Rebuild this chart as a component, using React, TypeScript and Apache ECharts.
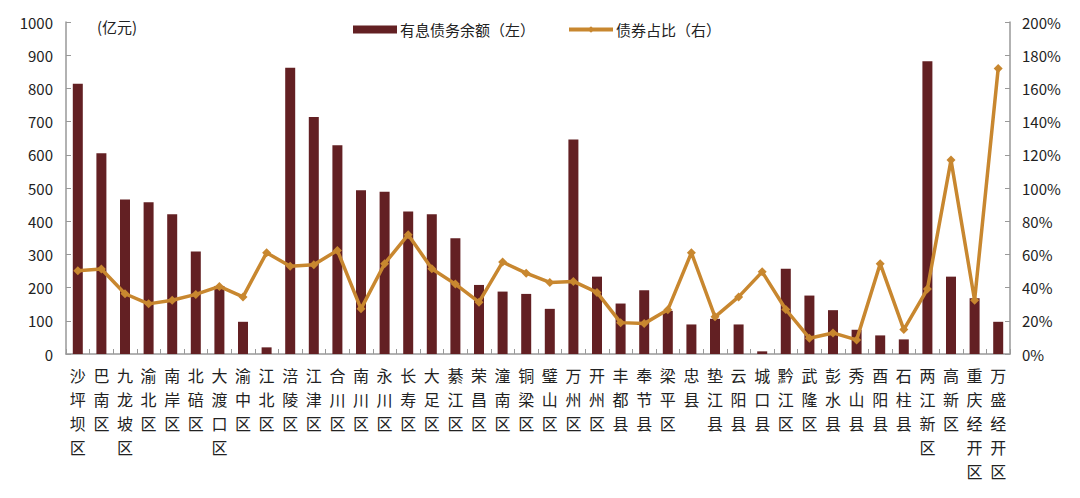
import React, { useEffect, useRef } from "react";
import * as echarts from "echarts";

const categories: string[] = [
  "沙坪坝区", "巴南区", "九龙坡区", "渝北区", "南岸区", "北碚区", "大渡口区", "渝中区", "江北区", "涪陵区",
  "江津区", "合川区", "南川区", "永川区", "长寿区", "大足区", "綦江区", "荣昌区", "潼南区", "铜梁区",
  "璧山区", "万州区", "开州区", "丰都县", "奉节县", "梁平区", "忠县", "垫江县", "云阳县", "城口县",
  "黔江区", "武隆区", "彭水县", "秀山县", "酉阳县", "石柱县", "两江新区", "高新区", "重庆经开区", "万盛经开区",
];

const debtValues: number[] = [
  814, 605, 465, 457, 421, 309, 205, 97, 20, 862,
  714, 629, 493, 489, 429, 421, 349, 208, 188, 181,
  136, 646, 233, 152, 192, 130, 89, 106, 89, 8,
  257, 176, 132, 73, 56, 44, 882, 233, 168, 97,
];

const bondShare: number[] = [
  50.2, 51.2, 36.3, 30.2, 32.4, 35.9, 40.7, 34.4, 61.0, 52.8,
  53.8, 62.4, 27.2, 54.4, 71.9, 51.4, 42.1, 31.2, 55.4, 48.7,
  43.1, 43.7, 37.1, 18.9, 18.3, 26.6, 61.0, 22.4, 34.4, 49.5,
  26.8, 9.5, 12.7, 8.5, 54.4, 14.7, 39.1, 116.8, 32.4, 172.0,
];

const seriesNames: string[] = ["有息债务余额（左）", "债券占比（右）"];
const unitLabel = "(亿元)";

const FONT = "'Noto Sans CJK SC', 'Noto Sans', sans-serif";

export default function App() {
  const ref = useRef<HTMLDivElement>(null);
  useEffect(() => {
    if (!ref.current) return;
    const chart = echarts.init(ref.current, undefined, { renderer: "svg" });
    chart.setOption({
      animation: false,
      backgroundColor: "#ffffff",
      textStyle: { fontFamily: FONT },
      grid: { left: 58, right: 62, top: 14, bottom: 136, containLabel: false },
      legend: {
        left: 340,
        top: 9,
        itemGap: 32,
        itemWidth: 44,
        itemHeight: 8,
        textStyle: { fontSize: 15, color: "#222", fontFamily: FONT, padding: [0, 0, 0, -2] },
        data: [
          { name: seriesNames[0], icon: "rect" },
          { name: seriesNames[1], lineStyle: { width: 4 } },
        ],
      },
      graphic: [
        {
          type: "text",
          left: 89,
          top: 11,
          style: { text: unitLabel, fontSize: 15, fill: "#222", fontFamily: FONT },
        },
      ],
      xAxis: {
        type: "category",
        data: categories,
        boundaryGap: true,
        axisLine: { lineStyle: { color: "#999", width: 1.5 } },
        axisTick: { show: true, inside: true, length: 5, lineStyle: { color: "#999" } },
        axisLabel: {
          interval: 0,
          fontSize: 16,
          lineHeight: 24,
          color: "#222",
          margin: 9,
          fontFamily: FONT,
          formatter: (v: string) => v.split("").join("\n"),
        },
      },
      yAxis: [
        {
          type: "value",
          min: 0,
          max: 1000,
          interval: 100,
          splitLine: { show: false },
          axisLine: { show: true, lineStyle: { color: "#999", width: 1.5 } },
          axisTick: { show: true, inside: true, length: 5, lineStyle: { color: "#999" } },
          axisLabel: { fontSize: 15, color: "#222", margin: 13, fontFamily: FONT, formatter: (v: number) => String(v) },
        },
        {
          type: "value",
          min: 0,
          max: 200,
          interval: 20,
          splitLine: { show: false },
          axisLine: { show: true, lineStyle: { color: "#999", width: 1.5 } },
          axisTick: { show: true, inside: true, length: 5, lineStyle: { color: "#999" } },
          axisLabel: { fontSize: 15, color: "#222", margin: 12, fontFamily: FONT, formatter: (v: number) => `${v}%` },
        },
      ],
      series: [
        {
          name: seriesNames[0],
          type: "bar",
          data: debtValues,
          barWidth: 10,
          itemStyle: { color: "#632023" },
          yAxisIndex: 0,
        },
        {
          name: seriesNames[1],
          type: "line",
          data: bondShare,
          yAxisIndex: 1,
          symbol: "diamond",
          symbolSize: 9,
          lineStyle: { color: "#C8872F", width: 3.5 },
          itemStyle: { color: "#C8872F" },
        },
      ],
    });
    return () => chart.dispose();
  }, []);
  return <div ref={ref} style={{ width: 1064, height: 482 }} />;
}
